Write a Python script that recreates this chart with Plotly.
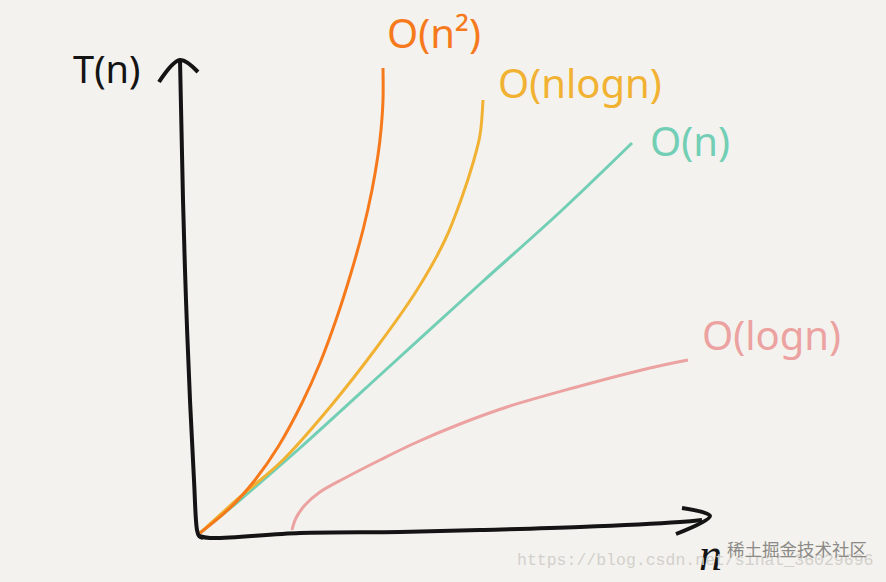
"""
Hand-drawn style sketch of time complexity growth curves.
Coordinates are in a canvas space: n to the right, T(n) upward.
"""

import plotly.graph_objects as go

W, H = 886, 582

_BG      = "#f4f2ee"
_INK     = "#141414"
_ORANGE  = "#f67a1c"
_YELLOW  = "#f1b233"
_TEAL    = "#72cfb5"
_PINK    = "#eba2a1"

# hand-drawn axes (canvas coords, y up)
y_axis_x = [180, 183, 186, 190, 194, 197, 199, 203]
y_axis_y = [522, 382, 282, 182, 102, 52, 46, 44]
y_arrow_x = [159, 180, 198]
y_arrow_y = [500, 522, 510]

x_axis_x = [199, 210, 300, 400, 480, 580, 680, 702]
x_axis_y = [46, 44, 49, 50, 52, 55, 60, 62]
x_arrow_x = [682, 710, 676]
x_arrow_y = [74, 66, 48]

# growth curves
n2_x = [200, 231, 255, 278, 302, 320, 337, 351, 363, 372, 378, 381, 383, 383]
n2_y = [49, 75, 102, 135, 179, 219, 265, 309, 352, 392, 427, 452, 482, 514]

nlogn_x = [200, 240, 283, 330, 377, 417, 445, 462, 473, 480, 483]
nlogn_y = [49, 85, 122, 175, 235, 292, 342, 385, 419, 447, 482]

n_x = [200, 240, 300, 390, 480, 560, 632]
n_y = [49, 82, 134, 216, 298, 370, 439]

logn_x = [292, 296, 305, 320, 345, 380, 415, 460, 507, 573, 650, 688]
logn_y = [52, 64, 77, 90, 104, 122, 139, 158, 175, 194, 214, 222]

labels = ["O(n²)", "O(nlogn)", "O(n)", "O(logn)"]
label_x = [434, 580, 690, 771]
label_y = [550, 500, 442, 248]
label_colors = [_ORANGE, _YELLOW, _TEAL, _PINK]

fig = go.Figure()


def stroke(xs, ys, color, width):
    fig.add_trace(go.Scatter(
        x=xs, y=ys,
        mode="lines",
        line=dict(color=color, width=width, shape="spline", smoothing=1.0),
        hoverinfo="skip",
    ))


stroke(logn_x, logn_y, _PINK, 3)
stroke(n_x, n_y, _TEAL, 3)
stroke(nlogn_x, nlogn_y, _YELLOW, 3)
stroke(n2_x, n2_y, _ORANGE, 3)

stroke(y_axis_x, y_axis_y, _INK, 4)
stroke(y_arrow_x, y_arrow_y, _INK, 4)
stroke(x_axis_x, x_axis_y, _INK, 4)
stroke(x_arrow_x, x_arrow_y, _INK, 4)

for text, x, y, c in zip(labels, label_x, label_y, label_colors):
    fig.add_annotation(
        x=x, y=y, text=text, showarrow=False,
        font=dict(family="Noto Sans", size=40, color=c),
    )

fig.add_annotation(
    x=106, y=514, text="T(n)", showarrow=False,
    font=dict(family="Noto Sans", size=38, color=_INK),
)
fig.add_annotation(
    x=710, y=28, text="<i>n</i>", showarrow=False,
    font=dict(family="Liberation Serif", size=46, color=_INK),
)

# watermarks
fig.add_annotation(
    x=695, y=22, text="https://blog.csdn.net/sinat_36029696", showarrow=False,
    font=dict(family="Liberation Mono", size=16.5, color="#d2d0cc"),
)
fig.add_annotation(
    x=797, y=34, text="稀土掘金技术社区", showarrow=False,
    font=dict(family="Noto Sans CJK SC", size=17.5, color="#8c8a87"),
)

fig.update_layout(
    width=W, height=H,
    margin=dict(l=0, r=0, t=0, b=0),
    paper_bgcolor=_BG,
    plot_bgcolor=_BG,
    showlegend=False,
    xaxis=dict(range=[0, W], visible=False, fixedrange=True),
    yaxis=dict(range=[0, H], visible=False, fixedrange=True),
)

fig.write_html(
    "out.html",
    config={"displayModeBar": False},
    post_script="document.body.style.margin='0';document.body.style.overflow='hidden';",
)
